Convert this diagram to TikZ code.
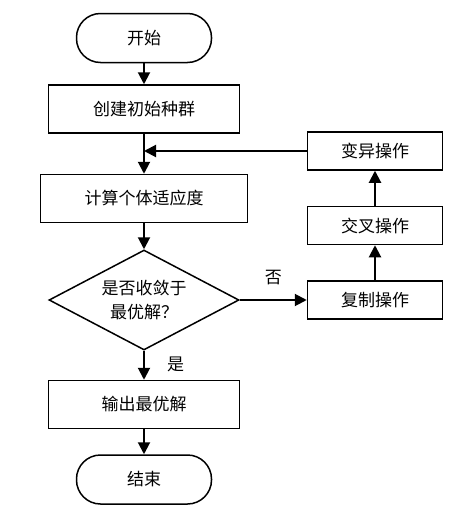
\documentclass[tikz,border=0pt]{standalone}
\usepackage{fontspec}
\setmainfont{Noto Sans CJK SC}
\usetikzlibrary{positioning, shapes.geometric, arrows.meta}

\begin{document}
\begin{tikzpicture}[node distance=20pt, >={Triangle[length=12pt,width=12pt]},
    every node/.style={font=\fontsize{17}{24}\selectfont, inner sep=0pt},
    term/.style={draw, line width=1.5pt, rounded corners=24pt, minimum width=135pt, minimum height=49pt},
    box/.style={draw, line width=1.5pt, minimum width=191pt, minimum height=48pt},
    opbox/.style={draw, line width=1.5pt, minimum width=135pt, minimum height=38pt},
    arrow/.style={->, line width=2pt}]
			\useasboundingbox (0,0) rectangle (475pt,-514pt);
			\node[term]                                  (start)   at (144pt,-38pt) {开始};
			\node[box, below=21pt of start]              (init)    {创建初始种群};
			\node[box, minimum width=207pt, below=40pt of init] (fitness) {计算个体适应度};
			\node[draw, diamond, line width=1.5pt, aspect=1.9, minimum width=190pt, minimum height=100pt,
			      align=center, below=26pt of fitness]   (check)   {是否收敛于\\最优解？};
			\node[box, below=29pt of check]              (output)  {输出最优解};
			\node[term, below=25pt of output]            (end)     {结束};
			\node[opbox, right=67pt of check]            (copy)    {复制操作};
			\node[opbox, above=35pt of copy]             (cross)   {交叉操作};
			\node[opbox, above=35pt of cross]            (mutate)  {变异操作};
			
			\draw[arrow] (start)  -- (init);
			\draw[arrow] (init)   -- (fitness);
			\draw[arrow] (fitness) -- (check);
			\draw[arrow] (check)  -- node[right=22pt, yshift=1pt] {是} (output);
			\draw[arrow] (output) -- (end);
			\draw[arrow] (check)  -- node[above=14pt] {否} (copy);
			\draw[arrow] (copy)   -- (cross);
			\draw[arrow] (cross)  -- (mutate);
			\draw[arrow] (mutate) -- (mutate-|fitness);
		\end{tikzpicture}
\end{document}
